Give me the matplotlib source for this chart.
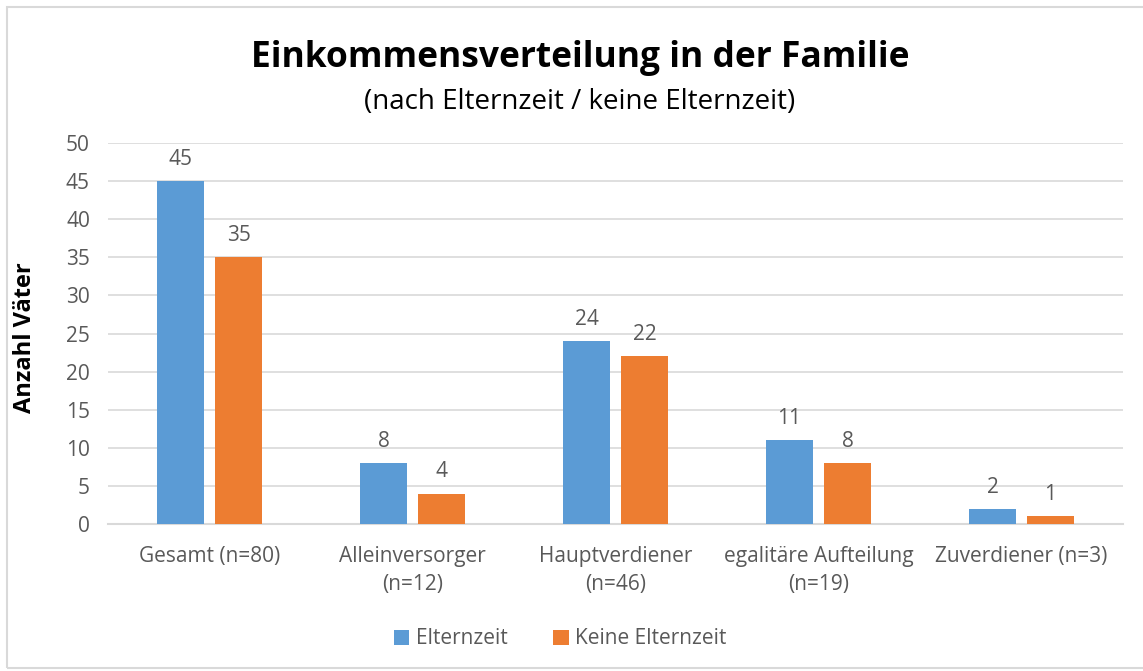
import matplotlib.pyplot as plt
import numpy as np
from matplotlib.patches import Rectangle

kategorien = ["Gesamt (n=80)", "Alleinversorger\n(n=12)", "Hauptverdiener\n(n=46)",
              "egalitäre Aufteilung\n(n=19)", "Zuverdiener (n=3)"]
elternzeit = [45, 8, 24, 11, 2]
keine_elternzeit = [35, 4, 22, 8, 1]

blau = "#5B9BD5"
orange = "#ED7D31"
grau = "#595959"

plt.rcParams["font.family"] = ["Open Sans", "DejaVu Sans"]

fig = plt.figure(figsize=(11.43, 6.71), dpi=100)
ax = fig.add_axes([108 / 1143, 1 - 524 / 671, (1123 - 108) / 1143, (524 - 143) / 671])

x = np.arange(len(kategorien))
b = 0.227
off = 0.143
b1 = ax.bar(x - off, elternzeit, b, color=blau, label="Elternzeit", zorder=3)
b2 = ax.bar(x + off, keine_elternzeit, b, color=orange, label="Keine Elternzeit", zorder=3)
for bars in (b1, b2):
    ax.bar_label(bars, padding=8, fontsize=15, color=grau)

ax.set_xlim(-0.5, len(kategorien) - 0.5)
ax.set_ylim(0, 50)
ax.set_yticks(range(0, 51, 5))
ax.grid(axis="y", color="#D9D9D9", lw=1.2, zorder=0)
for s in ["top", "right", "left"]:
    ax.spines[s].set_visible(False)
ax.spines["bottom"].set_color("#D9D9D9")
ax.spines["bottom"].set_linewidth(1.5)
ax.tick_params(length=0, labelsize=15, labelcolor=grau)
ax.tick_params(axis="x", pad=16)
ax.tick_params(axis="y", pad=13)
ax.set_xticks(x)
ax.set_xticklabels(kategorien, linespacing=1.45)
ax.set_ylabel("Anzahl Väter", fontsize=17, fontweight="bold", color="black")
ax.yaxis.set_label_coords(-0.07, 0.49)

fig.text(580 / 1143, 1 - 58 / 671, "Einkommensverteilung in der Familie", ha="center", va="center",
         fontsize=25.5, fontweight="bold", color="black")
fig.text(580 / 1143, 1 - 102 / 671, "(nach Elternzeit / keine Elternzeit)", ha="center", va="center",
         fontsize=20, color="black")

fig.legend(loc="center", bbox_to_anchor=(560 / 1143, 1 - 639 / 671), ncol=2, frameon=False,
           fontsize=15, labelcolor=grau, handlelength=0.75, handleheight=0.75, columnspacing=2.2,
           handletextpad=0.3)

fig.patches.append(Rectangle((7 / 1143, 3 / 671), 1.2, 1 - 10 / 671, transform=fig.transFigure,
                             fill=False, edgecolor="#D9D9D9", lw=1.5))

fig.savefig("out.png", dpi=100, facecolor="white")
